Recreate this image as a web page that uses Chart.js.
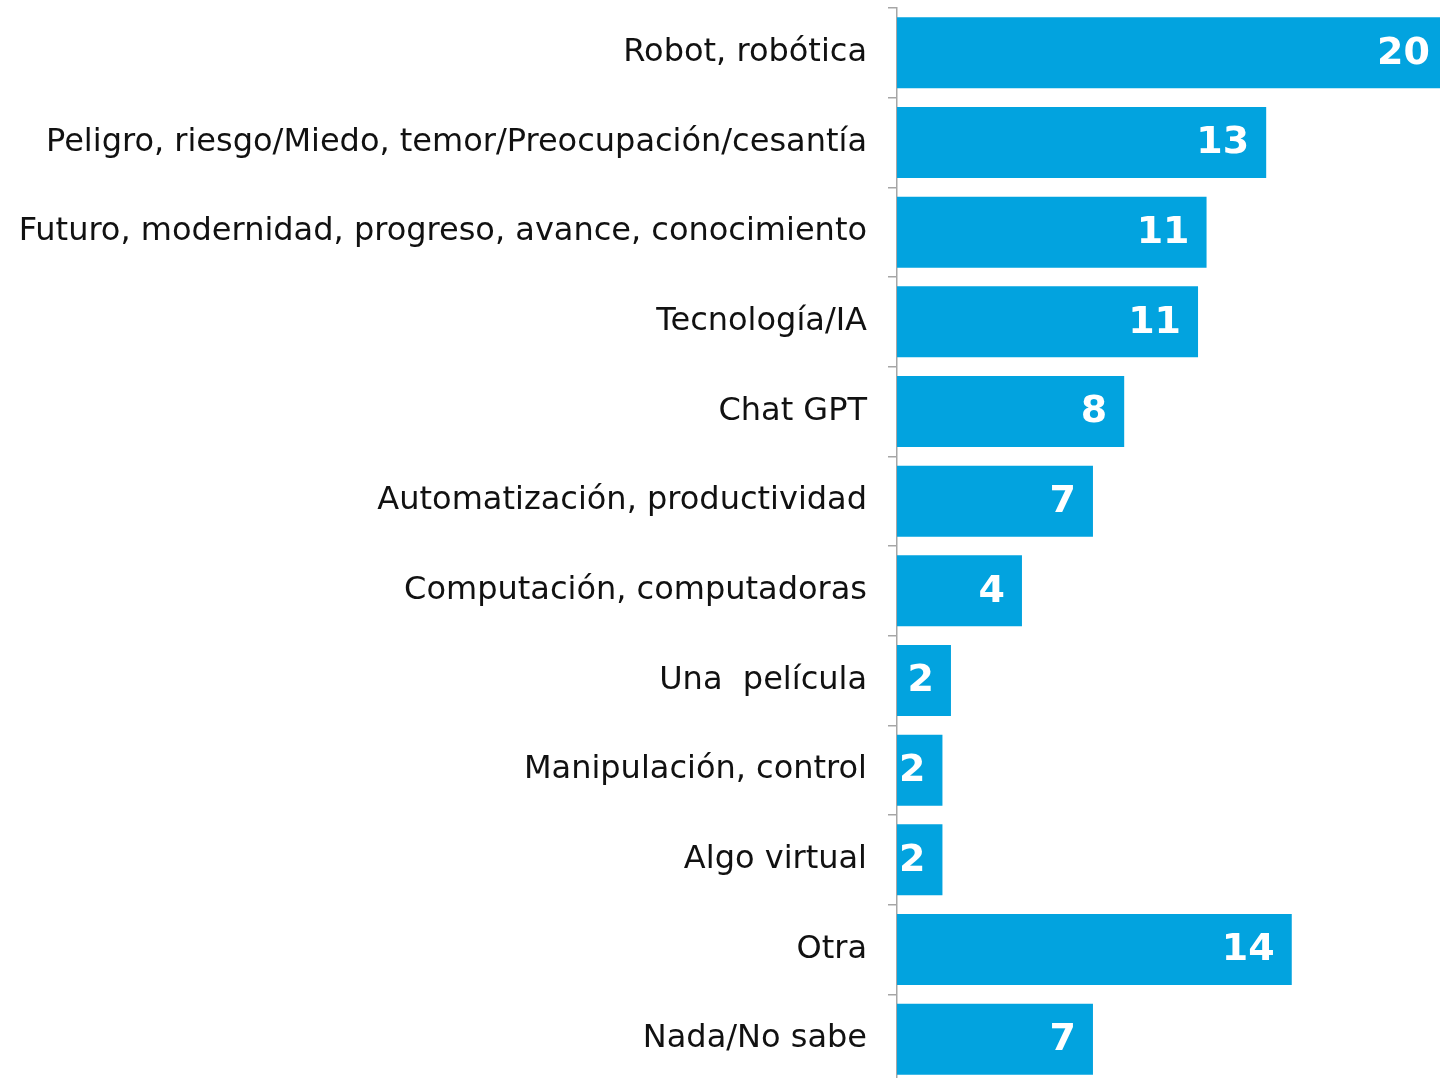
<!DOCTYPE html>
<html>
<head>
  <meta charset="UTF-8">
  <title>Palabras asociadas</title>
  <script src="https://cdn.jsdelivr.net/npm/chart.js"></script>
  <style>
    html, body { margin: 0; padding: 0; background: #fff; overflow: hidden; }
    #wrap { position: relative; width: 1440px; height: 1084px; }
  </style>
</head>
<body>
  <div id="wrap"><canvas id="chart"></canvas></div>
  <script>
    // categories, top to bottom
    const categories = [
      'Robot, robótica',
      'Peligro, riesgo/Miedo, temor/Preocupación/cesantía',
      'Futuro, modernidad, progreso, avance, conocimiento',
      'Tecnología/IA',
      'Chat GPT',
      'Automatización, productividad',
      'Computación, computadoras',
      'Una  película',
      'Manipulación, control',
      'Algo virtual',
      'Otra',
      'Nada/No sabe'
    ];
    // bar lengths (printed labels are rounded)
    const values = [20, 13.0, 10.9, 10.6, 8.0, 6.9, 4.4, 1.9, 1.6, 1.6, 13.9, 6.9];
    const shownLabels = ['20', '13', '11', '11', '8', '7', '4', '2', '2', '2', '14', '7'];

    const barColor = '#02A3DF';
    const axisColor = '#A6A6A6';
    const labelFont = '"DejaVu Sans", sans-serif';

    // white value labels at the end of each bar
    const valueLabels = {
      id: 'valueLabels',
      afterDatasetsDraw(chart) {
        const ctx = chart.ctx;
        const area = chart.chartArea;
        const meta = chart.getDatasetMeta(0);
        ctx.save();
        ctx.fillStyle = '#fff';
        ctx.font = 'bold 38px ' + labelFont;
        ctx.textAlign = 'right';
        ctx.textBaseline = 'middle';
        meta.data.forEach((bar, i) => {
          const x = Math.min(bar.x - 17, area.right - 10);
          ctx.fillText(shownLabels[i], x, bar.y + 1);
        });
        ctx.restore();
      }
    };

    new Chart(document.getElementById('chart'), {
      type: 'bar',
      data: {
        labels: categories,
        datasets: [{
          data: values,
          backgroundColor: barColor,
          borderWidth: 0,
          barPercentage: 0.792,
          categoryPercentage: 1
        }]
      },
      options: {
        indexAxis: 'y',
        responsive: true,
        maintainAspectRatio: false,
        animation: false,
        layout: { padding: { top: 8, right: 0, bottom: 0, left: 0 } },
        plugins: {
          legend: { display: false },
          tooltip: { enabled: false }
        },
        scales: {
          x: {
            display: false,
            min: 0,
            max: 19.12
          },
          y: {
            afterFit(scale) {
              scale.width = 897;
              scale.paddingTop = 0;
              scale.paddingBottom = 0;
            },
            grid: {
              drawOnChartArea: false,
              drawTicks: true,
              tickLength: 9,
              color: axisColor,
              lineWidth: 1.5
            },
            border: { display: true, color: axisColor, width: 1.5 },
            ticks: {
              color: '#111',
              padding: 21,
              font: { family: labelFont, size: 32 }
            }
          }
        }
      },
      plugins: [valueLabels]
    });
  </script>
</body>
</html>
